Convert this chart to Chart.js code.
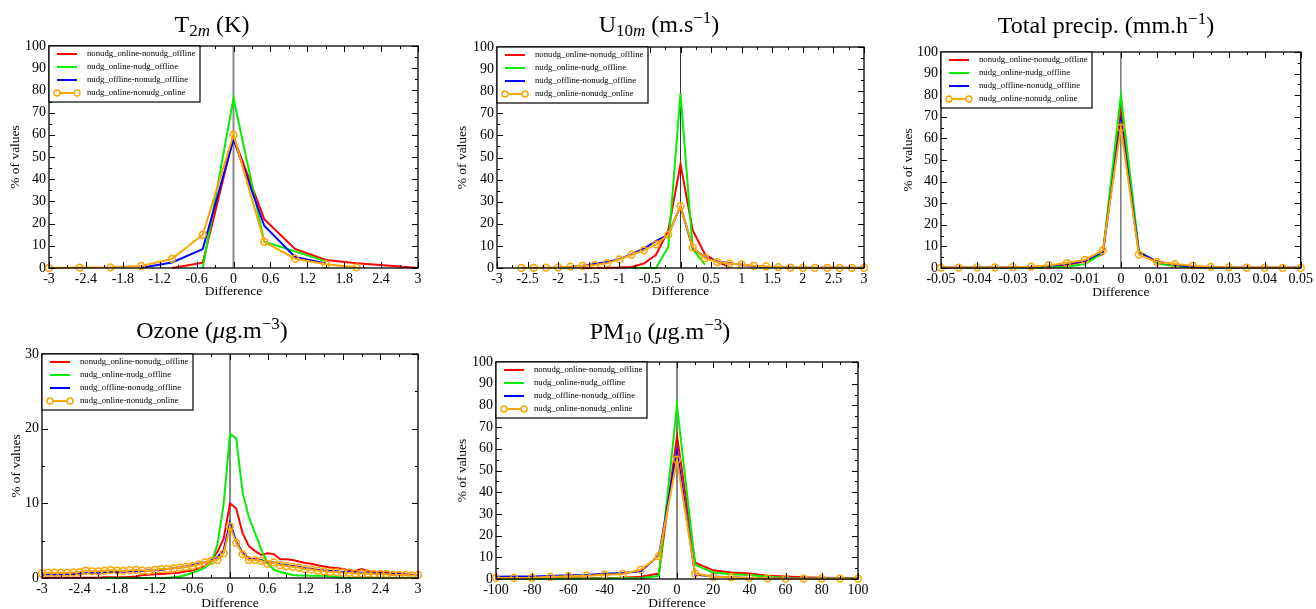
<!DOCTYPE html>
<html>
<head>
<meta charset="utf-8">
<script src="https://cdn.jsdelivr.net/npm/chart.js@4.4.0/dist/chart.umd.min.js"></script>
<style>
    body { margin: 0; background: #fff; width: 1316px; height: 609px; position: relative; overflow: hidden; }
    canvas { position: absolute; }
</style>
</head>
<body>
<canvas id="t2m" width="440" height="305" style="left:0;top:0"></canvas>
<canvas id="u10m" width="440" height="305" style="left:440px;top:0"></canvas>
<canvas id="precip" width="436" height="305" style="left:880px;top:0"></canvas>
<canvas id="ozone" width="440" height="304" style="left:0;top:305px"></canvas>
<canvas id="pm10" width="440" height="304" style="left:440px;top:305px"></canvas>
<script>
    // series order: red, green, blue, orange
    const seriesLabels = ['nonudg_online-nonudg_offline', 'nudg_online-nudg_offline', 'nudg_offline-nonudg_offline', 'nudg_online-nonudg_online'];
    const seriesColors = ['#ff0000', '#00f000', '#0000ff', '#ffa500'];

    const pctTicks = [0, 10, 20, 30, 40, 50, 60, 70, 80, 90, 100];
    const pctTickLabels = ['0', '10', '20', '30', '40', '50', '60', '70', '80', '90', '100'];
    const ozonePctTicks = [0, 10, 20, 30];
    const ozonePctTickLabels = ['0', '10', '20', '30'];

    // T2m (K)
    const t2mX = [-3, -2.5, -2, -1.5, -1, -0.5, 0, 0.5, 1, 1.5, 2, 2.5, 3];
    const t2mRed = [null, null, null, null, 0, 2.4, 59, 22, 8.6, 3.6, 2.1, 1.1, 0];
    const t2mGreen = [null, null, null, null, null, 0, 76.5, 11.8, 7.5, 3.0, null, null, null];
    const t2mBlue = [null, null, null, 0.1, 2.5, 8.5, 58, 19, 5, 2.0, null, null, null];
    const t2mOrange = [0, 0.2, 0.3, 0.9, 4.1, 15, 60, 11.8, 4.2, 1.7, 0.3, null, null];
    const t2mTicks = [-3, -2.4, -1.8, -1.2, -0.6, 0, 0.6, 1.2, 1.8, 2.4, 3];
    const t2mTickLabels = ['-3', '-2.4', '-1.8', '-1.2', '-0.6', '0', '0.6', '1.2', '1.8', '2.4', '3'];

    // U10m (m/s)
    const u10mX = [-2.6, -2.4, -2.2, -2, -1.8, -1.6, -1.4, -1.2, -1, -0.8, -0.6, -0.4, -0.2, 0, 0.2, 0.4, 0.6, 0.8, 1, 1.2, 1.4, 1.6, 1.8, 2, 2.2, 2.4, 2.6, 2.8, 3];
    const u10mRed = [null, null, null, null, null, 0, 0, 0.1, 0.2, 0.5, 2.0, 6, 17, 47, 17, 6.2, 2.8, 0.5, null, null, null, null, null, null, null, null, null, null, null];
    const u10mGreen = [null, null, null, null, null, null, null, null, null, 0, 0, 0, 9.5, 79, 8.5, 1.5, null, null, null, null, null, null, null, null, null, null, null, null, null];
    const u10mBlue = [null, null, null, 0.2, 0.5, 1.0, 1.9, 2.7, 4.0, 6.3, 8.7, 12.3, 15, 28, 9.0, 4.8, 3.0, 2.2, 1.5, 0.8, 0.5, 0.3, 0.2, 0.1, 0.1, 0.1, 0.1, 0.1, 0.1];
    const u10mOrange = [0.1, 0.1, 0.2, 0.3, 0.6, 1.0, 1.4, 2.2, 3.9, 6, 8, 10.7, 15, 28, 9.3, 4.5, 2.7, 2.0, 1.6, 1.0, 0.7, 0.4, 0.2, 0.1, 0.1, 0.1, 0.1, 0.1, 0.1];
    const u10mTicks = [-3, -2.5, -2, -1.5, -1, -0.5, 0, 0.5, 1, 1.5, 2, 2.5, 3];
    const u10mTickLabels = ['-3', '-2.5', '-2', '-1.5', '-1', '-0.5', '0', '0.5', '1', '1.5', '2', '2.5', '3'];

    // Total precipitation (mm/h)
    const precipX = [-0.05, -0.045, -0.04, -0.035, -0.03, -0.025, -0.02, -0.015, -0.01, -0.005, 0, 0.005, 0.01, 0.015, 0.02, 0.025, 0.03, 0.035, 0.04, 0.045, 0.05];
    const precipRed = [0.1, 0.1, 0.1, 0.2, 0.2, 0.3, 0.8, 1.5, 3.0, 6.5, 73, 7.5, 3, 1.2, 0.4, 0.2, 0.1, 0.1, 0.1, 0.1, 0.1];
    const precipGreen = [0, 0, 0, 0, 0.1, 0.1, 0.3, 0.6, 1.8, 7, 80, 8, 2.2, 0.8, 0.3, 0.1, 0, 0, 0, 0, 0];
    const precipBlue = [0.1, 0.1, 0.2, 0.2, 0.3, 0.4, 1.0, 2.0, 3.3, 7.5, 68, 7.2, 3, 1.5, 0.6, 0.3, 0.2, 0.1, 0.1, 0.1, 0.1];
    const precipOrange = [0.2, 0.2, 0.3, 0.3, 0.4, 0.6, 1.3, 2.3, 3.8, 8.2, 65, 6.2, 2.8, 1.8, 1.1, 0.5, 0.3, 0.2, 0.2, 0.1, 0.1];
    const precipTicks = [-0.05, -0.04, -0.03, -0.02, -0.01, 0, 0.01, 0.02, 0.03, 0.04, 0.05];
    const precipTickLabels = ['-0.05', '-0.04', '-0.03', '-0.02', '-0.01', '0', '0.01', '0.02', '0.03', '0.04', '0.05'];

    // Ozone (ug/m3)
    const ozoneX = [
        -3, -2.9, -2.8, -2.7, -2.6, -2.5, -2.4, -2.3, -2.2, -2.1,
        -2, -1.9, -1.8, -1.7, -1.6, -1.5, -1.4, -1.3, -1.2, -1.1,
        -1, -0.9, -0.8, -0.7, -0.6, -0.5, -0.4, -0.3, -0.2, -0.1,
        0, 0.1, 0.2, 0.3, 0.4, 0.5, 0.6, 0.7, 0.8, 0.9,
        1, 1.1, 1.2, 1.3, 1.4, 1.5, 1.6, 1.7, 1.8, 1.9,
        2, 2.1, 2.2, 2.3, 2.4, 2.5, 2.6, 2.7, 2.8, 2.9,
        3];
    const ozoneRed = [
        0.05, 0.05, 0.05, 0.05, 0.05, 0.05, 0.05, 0.05, 0.05, 0.05,
        0.1, 0.1, 0.1, 0.1, 0.15, 0.2, 0.4, 0.45, 0.5, 0.55,
        0.6, 0.65, 0.75, 0.9, 1.0, 1.3, 1.6, 2.3, 3.5, 5.3,
        10.0, 9.3, 6.0, 4.3, 3.6, 3.1, 3.3, 3.2, 2.5, 2.5,
        2.4, 2.2, 2.0, 1.9, 1.7, 1.55, 1.4, 1.35, 1.2, 1.05,
        0.95, 1.2, 0.95, 0.85, 0.8, 0.7, 0.6, 0.6, 0.5, 0.45,
        0.4];
    const ozoneGreen = [
        null, null, null, null, null, null, null, null, null, null,
        0, 0, 0, 0, 0, 0, 0, 0, 0, 0,
        0, 0.1, 0.2, 0.4, 0.7, 1.0, 1.4, 2.0, 4.5, 10,
        19.3, 18.7, 11.5, 8.2, 6.0, 3.8, 2.0, 1.1, 0.8, 0.6,
        0.4, 0.35, 0.35, 0.3, 0.3, 0.3, 0.25, 0.15, 0.05, 0.05,
        0.05, 0.05, 0.05, 0.05, 0.05, 0.05, 0.05, 0.05, 0.05, 0.05,
        0.05];
    const ozoneBlue = [
        0.4, 0.5, 0.45, 0.5, 0.5, 0.55, 0.6, 0.65, 0.7, 0.7,
        0.75, 0.8, 0.8, 0.85, 0.9, 0.9, 0.95, 1.0, 1.05, 1.1,
        1.2, 1.3, 1.4, 1.55, 1.7, 1.9, 2.1, 2.4, 2.8, 3.8,
        7.4, 4.9, 3.4, 2.6, 2.5, 2.4, 2.0, 2.1, 1.8, 1.7,
        1.6, 1.5, 1.3, 1.25, 1.1, 1.0, 0.95, 0.9, 0.8, 0.8,
        0.75, 0.7, 0.65, 0.6, 0.6, 0.55, 0.5, 0.5, 0.45, 0.4,
        0.4];
    const ozoneOrange = [
        0.6, 0.7, 0.7, 0.7, 0.7, 0.75, 0.8, 1.0, 0.9, 0.9,
        1.0, 1.05, 1.0, 0.95, 1.05, 1.1, 1.0, 0.95, 1.1, 1.2,
        1.2, 1.3, 1.4, 1.5, 1.6, 1.8, 2.1, 2.3, 2.4, 3.3,
        6.9, 4.7, 3.2, 2.4, 2.4, 2.3, 1.9, 2.1, 1.7, 1.6,
        1.5, 1.4, 1.2, 1.15, 1.0, 0.9, 0.8, 0.8, 0.7, 0.7,
        0.6, 0.6, 0.6, 0.5, 0.5, 0.5, 0.4, 0.4, 0.4, 0.35,
        0.4];

    // PM10 (ug/m3)
    const pm10X = [-100, -90, -80, -70, -60, -50, -40, -30, -20, -10, 0, 10, 20, 30, 40, 50, 60, 70, 80, 90, 100];
    const pm10Red = [0.2, 0.2, 0.2, 0.3, 0.3, 0.4, 0.5, 0.6, 1.0, 2.5, 66, 7.5, 4, 3, 2.5, 1.5, 1.2, 0.8, 0.6, 0.5, 0.5];
    const pm10Green = [0.1, 0.1, 0.1, 0.1, 0.1, 0.2, 0.2, 0.3, 0.4, 1.5, 80, 6.5, 3, 2.2, 1.8, 1.0, 0.6, 0.5, 0.4, 0.3, 0.3];
    const pm10Blue = [1.0, 1.2, 1.2, 1.4, 1.7, 1.9, 2.4, 2.8, 3.5, 11, 59, 2.0, 1.2, 0.8, 0.5, 0.4, 0.3, 0.3, 0.2, 0.2, 0.2];
    const pm10Orange = [0.5, 0.5, 0.6, 1.0, 1.3, 1.5, 2.0, 2.3, 4.3, 10.5, 55, 2.5, 1.0, 0.8, 0.5, 0.3, 0.2, 0.2, 0.2, 0.2, 0.2];
    const pm10Ticks = [-100, -80, -60, -40, -20, 0, 20, 40, 60, 80, 100];
    const pm10TickLabels = ['-100', '-80', '-60', '-40', '-20', '0', '20', '40', '60', '80', '100'];

    Chart.defaults.font.family = "'Liberation Serif', 'Times New Roman', serif";
    Chart.defaults.color = '#000';
    Chart.defaults.animation = false;

    const SERIF = "'Liberation Serif', 'Times New Roman', serif";

    function midpoints(vals) {
        const out = [];
        for (let i = 0; i < vals.length - 1; i++) out.push((vals[i] + vals[i + 1]) / 2);
        return out;
    }

    // title with sub/superscripts: [text, kind]
    function drawRichTitle(ctx, segs, cx, baseline) {
        const big = 24, small = 17;
        const fontFor = k => (k.indexOf('i') >= 0 ? 'italic ' : '') + (k.startsWith('sub') || k === 'sup' ? small : big) + 'px ' + SERIF;
        let total = 0;
        segs.forEach(s => { ctx.font = fontFor(s[1]); total += ctx.measureText(s[0]).width; });
        let x = cx - total / 2;
        ctx.fillStyle = '#000';
        ctx.textAlign = 'left';
        ctx.textBaseline = 'alphabetic';
        segs.forEach(s => {
            ctx.font = fontFor(s[1]);
            let dy = 0;
            if (s[1].startsWith('sub')) dy = 4;
            if (s[1] === 'sup') dy = -9;
            ctx.fillText(s[0], x, baseline + dy);
            x += ctx.measureText(s[0]).width;
        });
    }

    const decor = {
        id: 'decor',
        beforeDatasetsDraw(chart, args, o) {
            const { ctx, chartArea: a, scales: { x } } = chart;
            const px = x.getPixelForValue(0);
            ctx.save();
            ctx.strokeStyle = o.zeroColor;
            ctx.lineWidth = o.zeroWidth;
            ctx.beginPath();
            ctx.moveTo(px, a.top);
            ctx.lineTo(px, a.bottom);
            ctx.stroke();
            ctx.restore();
        },
        afterDraw(chart, args, o) {
            const { ctx, chartArea: a, scales: { x, y } } = chart;
            ctx.save();
            ctx.strokeStyle = '#000';
            ctx.lineWidth = 1;

            // inward tick marks on all four sides
            const xt = (vals, len) => vals.forEach(v => {
                const p = Math.round(x.getPixelForValue(v)) + 0.5;
                ctx.beginPath();
                ctx.moveTo(p, a.bottom); ctx.lineTo(p, a.bottom - len);
                ctx.moveTo(p, a.top); ctx.lineTo(p, a.top + len);
                ctx.stroke();
            });
            const yt = (vals, len) => vals.forEach(v => {
                const p = Math.round(y.getPixelForValue(v)) + 0.5;
                ctx.beginPath();
                ctx.moveTo(a.left, p); ctx.lineTo(a.left + len, p);
                ctx.moveTo(a.right, p); ctx.lineTo(a.right - len, p);
                ctx.stroke();
            });
            xt(o.xTicks, 6); xt(midpoints(o.xTicks), 3);
            yt(o.yTicks, 6); yt(midpoints(o.yTicks), 3);

            // frame
            ctx.lineWidth = 1.3;
            ctx.strokeRect(a.left, a.top, a.right - a.left, a.bottom - a.top);

            // legend box
            const lx = a.left, ly = a.top, lw = 151, lh = 56;
            ctx.fillStyle = '#fff';
            ctx.fillRect(lx, ly, lw, lh);
            ctx.lineWidth = 1.2;
            ctx.strokeRect(lx, ly, lw, lh);
            ctx.font = '8.7px ' + SERIF;
            ctx.textBaseline = 'middle';
            ctx.textAlign = 'left';
            chart.data.datasets.forEach((ds, i) => {
                const yy = ly + 8 + i * 13;
                ctx.strokeStyle = ds.borderColor;
                ctx.lineWidth = 2;
                ctx.beginPath();
                ctx.moveTo(lx + 8, yy); ctx.lineTo(lx + 28, yy);
                ctx.stroke();
                if (ds.pointRadius > 0) {
                    ctx.lineWidth = 1.5;
                    [lx + 8, lx + 28].forEach(cx => {
                        ctx.beginPath();
                        ctx.arc(cx, yy, 3, 0, Math.PI * 2);
                        ctx.fillStyle = '#fff';
                        ctx.fill();
                        ctx.stroke();
                    });
                }
                ctx.fillStyle = '#000';
                ctx.fillText(ds.label, lx + 38, yy);
            });

            drawRichTitle(ctx, o.title, o.titleX, o.titleY);
            ctx.restore();
        }
    };

    function makePanel(p) {
        const ctx = document.getElementById(p.id).getContext('2d');
        const W = ctx.canvas.width, H = ctx.canvas.height;
        const datasets = p.series.map((ys, k) => ({
            label: seriesLabels[k],
            data: p.xs.map((xv, i) => ({ x: xv, y: ys[i] })),
            borderColor: seriesColors[k],
            backgroundColor: seriesColors[k],
            borderWidth: 2,
            pointRadius: k === 3 ? 3.4 : 0,
            pointBorderWidth: 1.5,
            pointBackgroundColor: 'rgba(0,0,0,0)',
            pointBorderColor: seriesColors[k],
            tension: 0,
            order: 4 - k,
            clip: false
        }));
        return new Chart(ctx, {
            type: 'line',
            data: { datasets: datasets },
            options: {
                responsive: false,
                events: [],
                layout: { padding: { left: 0, top: p.area.t, right: W - p.area.r, bottom: 0 } },
                plugins: {
                    legend: { display: false },
                    tooltip: { enabled: false },
                    decor: {
                        xTicks: p.xTicks, yTicks: p.yTicks,
                        zeroColor: p.zeroColor, zeroWidth: p.zeroWidth,
                        title: p.title, titleX: p.titleX, titleY: p.titleY
                    }
                },
                scales: {
                    x: {
                        type: 'linear',
                        min: p.xTicks[0],
                        max: p.xTicks[p.xTicks.length - 1],
                        grid: { display: false, drawTicks: false },
                        border: { display: false },
                        afterBuildTicks: s => { s.ticks = p.xTicks.map(v => ({ value: v })); },
                        ticks: {
                            padding: 3, autoSkip: false, maxRotation: 0,
                            font: { size: 14 },
                            callback: (v, i) => p.xLabels[i]
                        },
                        title: {
                            display: true, text: 'Difference',
                            font: { size: 13.5, lineHeight: 1 },
                            padding: { top: 0, bottom: (H - p.area.b) - p.xTitleGap - 6.75 }
                        },
                        afterFit: s => { s.height = H - p.area.b; }
                    },
                    y: {
                        type: 'linear',
                        min: 0,
                        max: p.yTicks[p.yTicks.length - 1],
                        grid: { display: false, drawTicks: false },
                        border: { display: false },
                        afterBuildTicks: s => { s.ticks = p.yTicks.map(v => ({ value: v })); },
                        ticks: {
                            padding: 3,
                            font: { size: 14 },
                            callback: (v, i) => p.yLabels[i]
                        },
                        title: {
                            display: true, text: '% of values',
                            font: { size: 13.5, lineHeight: 1 },
                            padding: { top: p.yTitleX - 6.75, bottom: 0 }
                        },
                        afterFit: s => { s.width = p.area.l; }
                    }
                }
            },
            plugins: [decor]
        });
    }

    makePanel({
        id: 't2m', xs: t2mX, series: [t2mRed, t2mGreen, t2mBlue, t2mOrange],
        xTicks: t2mTicks, xLabels: t2mTickLabels, yTicks: pctTicks, yLabels: pctTickLabels,
        area: { l: 49, t: 46, r: 418, b: 268 }, xTitleGap: 23.5, yTitleX: 15,
        zeroColor: '#888', zeroWidth: 2,
        title: [['T', ''], ['2', 'sub'], ['m', 'subi'], [' (K)', '']], titleX: 212, titleY: 32
    });
    makePanel({
        id: 'u10m', xs: u10mX, series: [u10mRed, u10mGreen, u10mBlue, u10mOrange],
        xTicks: u10mTicks, xLabels: u10mTickLabels, yTicks: pctTicks, yLabels: pctTickLabels,
        area: { l: 57, t: 47, r: 424, b: 268 }, xTitleGap: 23.5, yTitleX: 22,
        zeroColor: '#333', zeroWidth: 1,
        title: [['U', ''], ['10', 'sub'], ['m', 'subi'], [' (m.s', ''], ['\u22121', 'sup'], [')', '']], titleX: 219, titleY: 32
    });
    makePanel({
        id: 'precip', xs: precipX, series: [precipRed, precipGreen, precipBlue, precipOrange],
        xTicks: precipTicks, xLabels: precipTickLabels, yTicks: pctTicks, yLabels: pctTickLabels,
        area: { l: 61, t: 52, r: 423, b: 268 }, xTitleGap: 24, yTitleX: 28,
        zeroColor: '#333', zeroWidth: 1,
        title: [['Total precip. (mm.h', ''], ['\u22121', 'sup'], [')', '']], titleX: 226, titleY: 33
    });
    makePanel({
        id: 'ozone', xs: ozoneX, series: [ozoneRed, ozoneGreen, ozoneBlue, ozoneOrange],
        xTicks: t2mTicks, xLabels: t2mTickLabels, yTicks: ozonePctTicks, yLabels: ozonePctTickLabels,
        area: { l: 42, t: 49, r: 418, b: 273 }, xTitleGap: 25, yTitleX: 16,
        zeroColor: '#888', zeroWidth: 2,
        title: [['Ozone (', ''], ['\u03bc', 'i'], ['g.m', ''], ['\u22123', 'sup'], [')', '']], titleX: 212, titleY: 33
    });
    makePanel({
        id: 'pm10', xs: pm10X, series: [pm10Red, pm10Green, pm10Blue, pm10Orange],
        xTicks: pm10Ticks, xLabels: pm10TickLabels, yTicks: pctTicks, yLabels: pctTickLabels,
        area: { l: 56, t: 57, r: 418, b: 274 }, xTitleGap: 24.5, yTitleX: 22,
        zeroColor: '#888', zeroWidth: 2,
        title: [['PM', ''], ['10', 'sub'], [' (', ''], ['\u03bc', 'i'], ['g.m', ''], ['\u22123', 'sup'], [')', '']], titleX: 220, titleY: 34
    });
</script>
</body>
</html>
